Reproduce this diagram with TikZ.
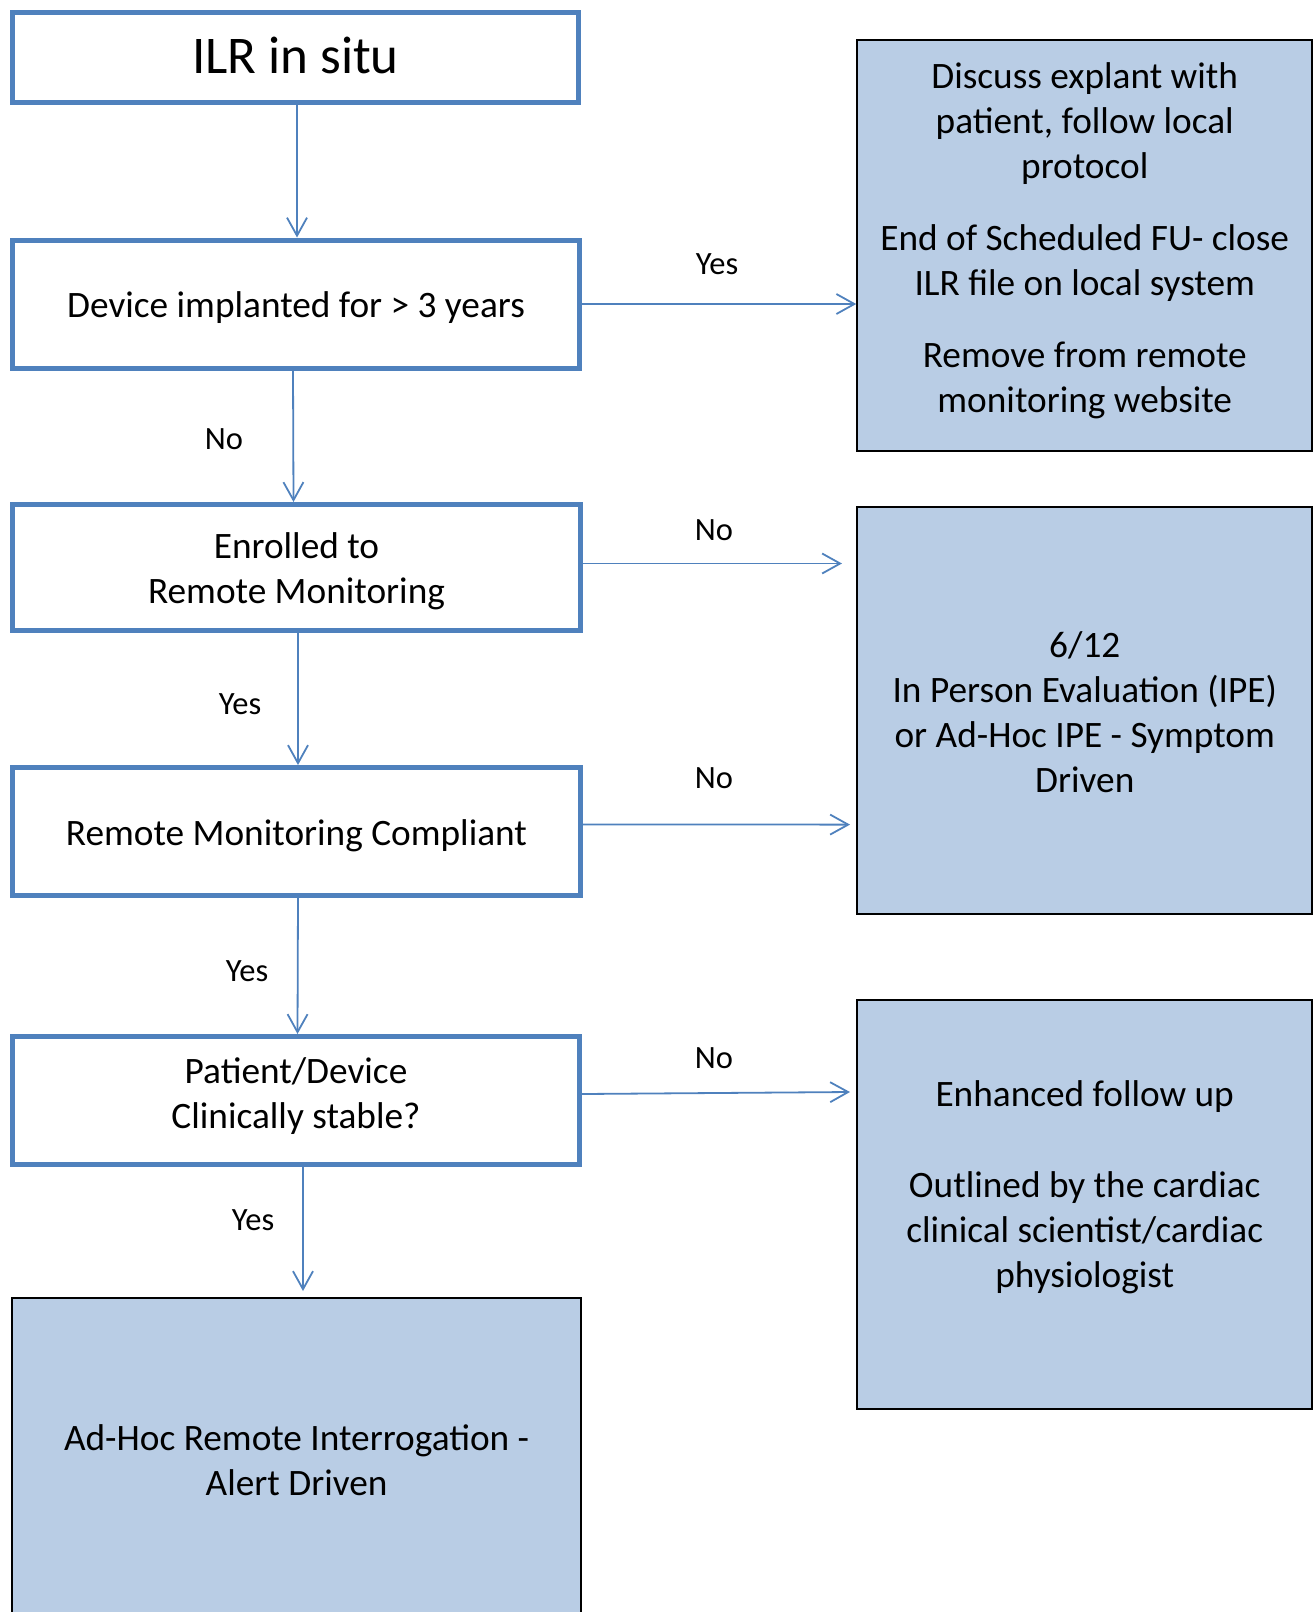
\documentclass[tikz,border=0pt]{standalone}
\usepackage{fontspec}
\setmainfont{Carlito}
\usetikzlibrary{arrows.meta}
\definecolor{bordblue}{HTML}{4F81BD}
\definecolor{fillblue}{HTML}{B9CDE5}
\begin{document}
\begin{tikzpicture}[x=1pt,y=-1pt,
  bluebox/.style={draw=bordblue, line width=5pt, fill=white, rectangle, inner sep=0pt},
  greybox/.style={draw=black, line width=2pt, fill=fillblue, rectangle, inner sep=0pt, align=center, font=\fontsize{37.3}{45}\selectfont},
  boxtext/.style={align=center, font=\fontsize{37.3}{45}\selectfont, inner sep=0pt},
  lbl/.style={font=\fontsize{32.5}{38}\selectfont, inner sep=0pt},
  conn/.style={draw=bordblue, line width=1.8pt, -{Straight Barb[length=18pt,width=20pt,line width=1.8pt]}}
]
\useasboundingbox (0,0) rectangle (1314,1612);
\clip (0,0) rectangle (1314,1612);

% left column
\node[bluebox, minimum width=566pt, minimum height=90pt] (ilr) at (295.5,57.5) {};
\node[boxtext, font=\fontsize{53}{60}\selectfont] (ilrt) at (295.5,55.5) {ILR in situ};
\node[bluebox, minimum width=567pt, minimum height=128pt] (dev) at (296,304) {};
\node[boxtext] (devt) at (296,307.5) {Device implanted for > 3 years};
\node[bluebox, minimum width=568pt, minimum height=126pt] (enr) at (296.5,567.5) {};
\node[boxtext] (enrt) at (296.5,571.5) {Enrolled to\\Remote Monitoring};
\node[bluebox, minimum width=568pt, minimum height=128pt] (rmc) at (296.5,831.5) {};
\node[boxtext] (rmct) at (296.5,835.5) {Remote Monitoring Compliant};
\node[bluebox, minimum width=567pt, minimum height=128pt] (pat) at (296,1100.5) {};
\node[boxtext] (patt) at (296,1096) {Patient/Device\\Clinically stable?};
\node[greybox, minimum width=569pt, minimum height=324pt] (adh) at (296.6,1460) {Ad-Hoc Remote Interrogation -\\Alert Driven};

% right column
\node[greybox, minimum width=455pt, minimum height=411pt] (r1) at (1084.75,245.5) {};
\node[boxtext] (r1t) at (1084.75,241) {Discuss explant with\\patient, follow local\\protocol\\[27pt]End of Scheduled FU- close\\ILR file on local system\\[27pt]Remove from remote\\monitoring website};
\node[greybox, minimum width=455pt, minimum height=407pt] (r2) at (1084.75,710.5) {};
\node[boxtext] (r2t) at (1084.75,712) {6/12\\In Person Evaluation (IPE)\\or Ad-Hoc IPE - Symptom\\Driven};
\node[greybox, minimum width=455pt, minimum height=409pt] (r3) at (1084.75,1204.5) {};
\node[boxtext] (r3t) at (1084.75,1187) {Enhanced follow up\\[46pt]Outlined by the cardiac\\clinical scientist/cardiac\\physiologist};

% vertical connectors
\draw[conn] ([xshift=1.5pt]ilr.south) -- ([xshift=1pt]dev.north);
\draw[conn] ([xshift=-3pt]dev.south) -- ([xshift=-3pt]enr.north);
\draw[conn] ([xshift=1.5pt]enr.south) -- ([xshift=1.5pt]rmc.north);
\draw[conn] ([xshift=1.5pt]rmc.south) -- ([xshift=1.5pt]pat.north);
\draw[conn, shorten >=6pt] ([xshift=7pt]pat.south) -- ([xshift=6.4pt]adh.north);

% horizontal connectors
\coordinate (e2) at (842,563.5);
\coordinate (e3) at (850,824.6);
\coordinate (e4) at (850,1092);
\draw[conn] (dev.east) -- (dev.east -| r1.west);
\draw[conn] ([yshift=4pt]enr.east) -- (e2);
\draw[conn] ([yshift=7pt]rmc.east) -- (e3);
\draw[conn] ([yshift=6.5pt]pat.east) -- (e4);

% labels
\node[lbl] (l1) at (717,264) {Yes};
\node[lbl] (l2) at (224,439) {No};
\node[lbl] (l3) at (714,530.5) {No};
\node[lbl] (l4) at (240,704) {Yes};
\node[lbl] (l5) at (714,778) {No};
\node[lbl] (l6) at (247,971) {Yes};
\node[lbl] (l7) at (714,1058) {No};
\node[lbl] (l8) at (253,1220) {Yes};
\end{tikzpicture}
\end{document}
